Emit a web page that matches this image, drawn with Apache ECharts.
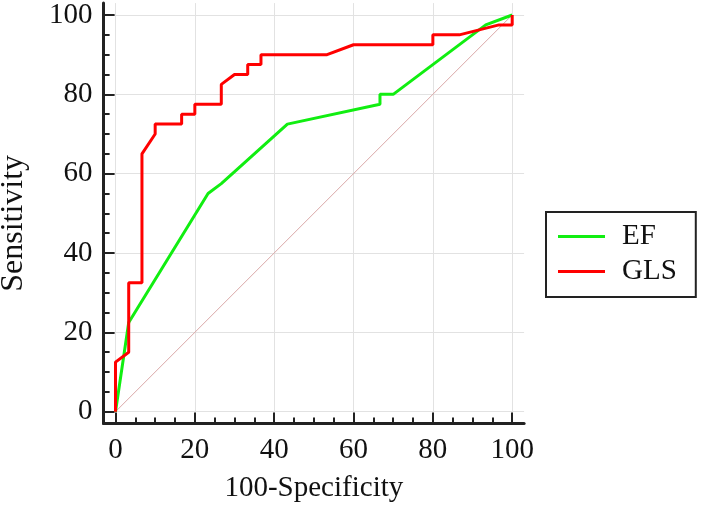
<!DOCTYPE html>
<html><head><meta charset="utf-8">
<script src="https://cdn.jsdelivr.net/npm/echarts@6/dist/echarts.min.js"></script>
<style>html,body{margin:0;padding:0;background:#fff}#c{width:709px;height:510px}</style>
</head><body><div id="c"></div>
<script>
const efX = [0, 3.33, 23.33, 26.67, 43.33, 66.67, 66.67, 70, 93.33, 100];
const efY = [0, 22.5, 55, 57.5, 72.5, 77.5, 80, 80, 97.5, 100];
const glsX = [0, 0, 3.33, 3.33, 6.67, 6.67, 10, 10, 16.67, 16.67, 20, 20, 26.67, 26.67, 30, 33.33, 33.33, 36.67, 36.67, 53.33, 60, 80, 80, 86.67, 96.67, 100, 100];
const glsY = [0, 12.5, 15, 32.5, 32.5, 65, 70, 72.5, 72.5, 75, 75, 77.5, 77.5, 82.5, 85, 85, 87.5, 87.5, 90, 90, 92.5, 92.5, 95, 95, 97.5, 97.5, 100];
const refX = [0, 100];
const refY = [0, 100];
const majorTicks = [0, 20, 40, 60, 80, 100];
const minorTicks = [0, 5, 10, 15, 20, 25, 30, 35, 40, 45, 50, 55, 60, 65, 70, 75, 80, 85, 90, 95, 100];

const zip = (a, b) => a.map((v, i) => [v, b[i]]);
const FONT = 'Liberation Serif';
const axisCol = '#222';

function mkAxis(isX, main) {
  const a = {
    type: 'value', min: -3, max: 103, position: isX ? 'bottom' : 'left',
    splitLine: { show: false },
    axisLine: { show: main, onZero: false, lineStyle: { color: axisCol, width: 3 } },
    axisTick: { show: true, inside: true, customValues: main ? minorTicks : majorTicks, length: main ? 6 : 11, lineStyle: { color: axisCol, width: 2 } },
    axisLabel: main ? { show: true, customValues: majorTicks, margin: isX ? 12 : 11, fontFamily: FONT, fontSize: 29, color: '#111' } : { show: false }
  };
  if (main) {
    a.name = isX ? '100-Specificity' : 'Sensitivity';
    a.nameLocation = 'middle';
    a.nameGap = isX ? 50 : 74;
    a.nameTextStyle = { fontFamily: FONT, fontSize: isX ? 29 : 32, color: '#111', padding: isX ? 0 : [0, 20, 0, 0] };
  }
  return a;
}

const chart = echarts.init(document.getElementById('c'), null, { renderer: 'canvas' });
chart.setOption({
  animation: false,
  grid: { left: 103.6, right: 184.9, top: 3.1, bottom: 86.4, containLabel: false, outerBoundsMode: 'none' },
  xAxis: [mkAxis(true, true), mkAxis(true, false)],
  yAxis: [mkAxis(false, true), mkAxis(false, false)],
  legend: {
    orient: 'vertical', left: 546, top: 212,
    data: ['EF', 'GLS'],
    icon: 'rect',
    itemWidth: 47, itemHeight: 3, itemGap: 6,
    padding: [10, 19, 11, 12],
    borderColor: axisCol, borderWidth: 2,
    textStyle: { fontFamily: FONT, fontSize: 29, color: '#111', padding: [0, 0, 0, 12] }
  },
  series: [
    {
      name: 'grid', type: 'line', data: [], silent: true, z: 0,
      markLine: {
        silent: true, symbol: 'none', label: { show: false }, z: 0,
        lineStyle: { color: '#e2e2e2', width: 1, type: 'solid' },
        data: majorTicks.map(v => ({ xAxis: v })).concat(majorTicks.map(v => ({ yAxis: v })))
      }
    },
    {
      name: 'ref', type: 'line', data: zip(refX, refY), symbol: 'none', silent: true, z: 1,
      lineStyle: { color: '#d9a7a7', width: 1 }
    },
    {
      name: 'EF', type: 'line', data: zip(efX, efY), symbol: 'none', z: 3,
      itemStyle: { color: '#11ee11' }, lineStyle: { color: '#11ee11', width: 3 }
    },
    {
      name: 'GLS', type: 'line', data: zip(glsX, glsY), symbol: 'none', z: 4,
      itemStyle: { color: '#ff0000' }, lineStyle: { color: '#ff0000', width: 3 }
    }
  ]
});
</script></body></html>
